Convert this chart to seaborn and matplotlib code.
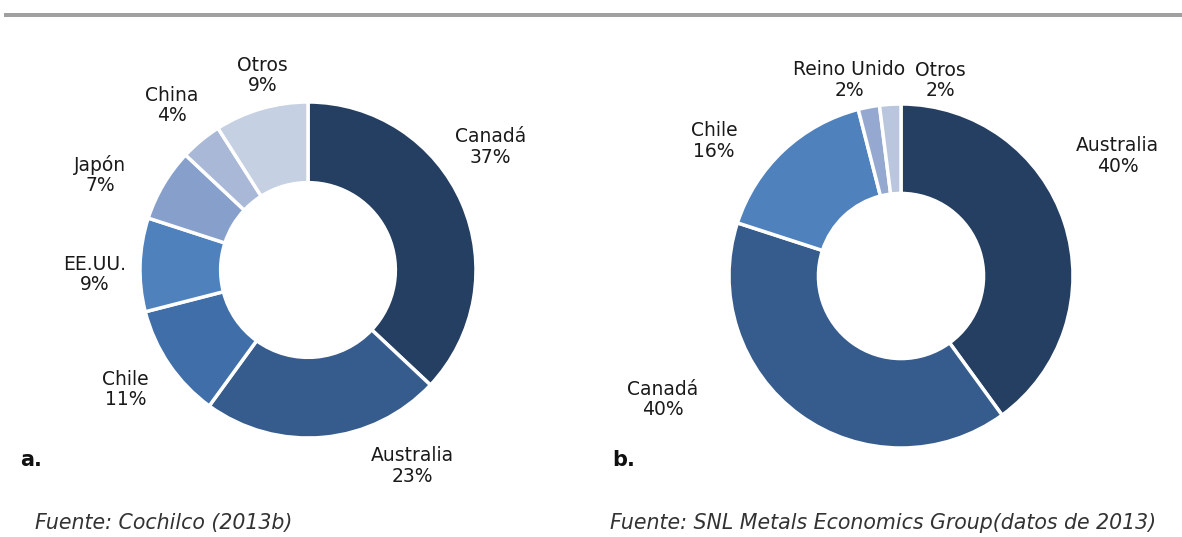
import numpy as np
import matplotlib
matplotlib.use('Agg')
import matplotlib.pyplot as plt
import seaborn as sns
from matplotlib.patches import Rectangle

sns.set_theme(style='white')
plt.rcParams['font.family'] = ['DejaVu Sans']

# Panel a: production by country
countries_a = ['Canadá', 'Australia', 'Chile', 'EE.UU.', 'Japón', 'China', 'Otros']
shares_a = [37, 23, 11, 9, 7, 4, 9]
colors_a = ['#253F62', '#365C8D', '#3F6EA9', '#4F81BD', '#87A0CB', '#A9B8D6', '#C5D0E2']
source_a = 'Fuente: Cochilco (2013b)'

# Panel b
countries_b = ['Australia', 'Canadá', 'Chile', 'Reino Unido', 'Otros']
shares_b = [40, 40, 16, 2, 2]
colors_b = ['#253F62', '#365C8D', '#4F81BD', '#95A9D0', '#B9C6DE']
source_b = 'Fuente: SNL Metals Economics Group(datos de 2013)'

W, H = 1182, 537
fig = plt.figure(figsize=(W / 100, H / 100), dpi=100)
fig.patch.set_facecolor('white')

# grey rule along the top
fig.add_artist(Rectangle((4 / W, (H - 17) / H), 1, 4 / H, transform=fig.transFigure,
                         facecolor='#A0A0A0', edgecolor='none'))


def donut(cx, cy, r, labels, vals, cols, nudges, dists, hole):
    span = 3.2
    side = span * r
    ax = fig.add_axes([(cx - side / 2) / W, (H - cy - side / 2) / H, side / W, side / H])
    ax.pie(vals, colors=cols, startangle=90, counterclock=False,
           wedgeprops=dict(width=1 - hole, edgecolor='white', linewidth=2.5))
    ax.set_xlim(-span / 2, span / 2)
    ax.set_ylim(-span / 2, span / 2)
    ax.set_aspect('equal')
    ax.axis('off')
    total = sum(vals)
    cum = 0
    for lab, v, nd, d in zip(labels, vals, nudges, dists):
        mid = 90 - 360 * (cum + v / 2) / total + nd
        cum += v
        t = np.deg2rad(mid)
        ax.text(d * np.cos(t), d * np.sin(t), f'{lab}\n{v}%', ha='center', va='center',
                fontsize=13.5, color='#1a1a1a', linespacing=1.1)
    return ax


donut(308, 270, 168, countries_a, shares_a, colors_a,
      [10.6, 22.6, -1, 3, 6, 0, -3], [1.31, 1.32, 1.30, 1.27, 1.36, 1.27, 1.19], 0.52)
donut(901, 276, 172, countries_b, shares_b, colors_b,
      [11, -26.6, 11, 4, -15], [1.44, 1.56, 1.34, 1.18, 1.16], 0.48)

fig.text(20 / W, 1 - 460 / H, 'a.', fontsize=15, fontweight='bold', va='center', color='#111111')
fig.text(612 / W, 1 - 460 / H, 'b.', fontsize=15, fontweight='bold', va='center', color='#111111')
fig.text(35 / W, 1 - 523 / H, source_a, fontsize=14.8, style='italic', va='center', color='#333333')
fig.text(610 / W, 1 - 523 / H, source_b, fontsize=14.8, style='italic', va='center', color='#333333')

fig.savefig('out.png', dpi=100, facecolor='white')
